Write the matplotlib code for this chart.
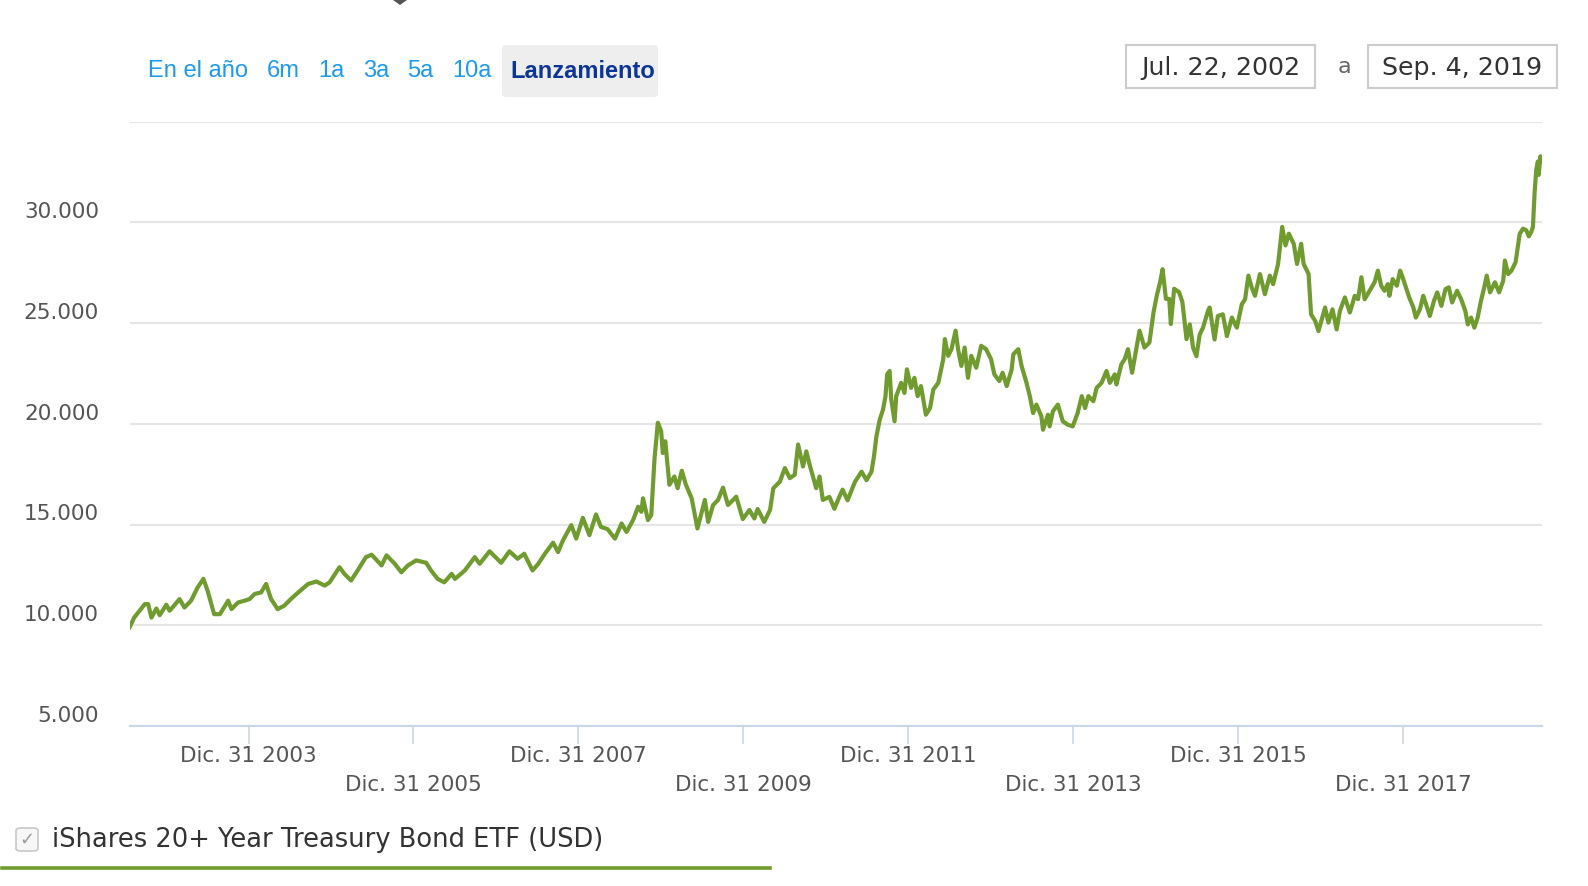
import matplotlib
matplotlib.use("Agg")
import matplotlib.pyplot as plt
from matplotlib.patches import Rectangle, FancyBboxPatch, Polygon
from matplotlib.lines import Line2D
from matplotlib.transforms import ScaledTranslation

# growth of 10.000 USD, decimal year -> value
years = [
    2002.555, 2002.61, 2002.74, 2002.78, 2002.82, 2002.88, 2002.92, 2003.00, 2003.04, 2003.10,
    2003.16, 2003.22, 2003.30, 2003.38, 2003.45, 2003.50, 2003.58, 2003.65, 2003.75, 2003.79,
    2003.87, 2003.95, 2004.01, 2004.07, 2004.15, 2004.21, 2004.27, 2004.35, 2004.43, 2004.51,
    2004.60, 2004.72, 2004.82, 2004.92, 2004.98, 2005.10, 2005.16, 2005.24, 2005.32, 2005.42,
    2005.49, 2005.61, 2005.67, 2005.77, 2005.85, 2005.93, 2006.03, 2006.15, 2006.21, 2006.29,
    2006.37, 2006.46, 2006.50, 2006.62,
    2006.74, 2006.80, 2006.92, 2007.06, 2007.16, 2007.26, 2007.34, 2007.44, 2007.51, 2007.59,
    2007.69, 2007.75, 2007.81, 2007.91, 2007.97, 2008.05, 2008.13, 2008.21, 2008.27, 2008.35,
    2008.44, 2008.52, 2008.58, 2008.66, 2008.72, 2008.76, 2008.78, 2008.84, 2008.88, 2008.92,
    2008.96, 2009.00, 2009.02, 2009.05, 2009.10, 2009.16, 2009.20, 2009.25, 2009.30, 2009.37,
    2009.44, 2009.53, 2009.57, 2009.63, 2009.69, 2009.75, 2009.81, 2009.85, 2009.91, 2009.99,
    2010.07, 2010.13, 2010.17, 2010.25, 2010.32, 2010.36, 2010.44, 2010.50, 2010.56, 2010.62,
    2010.66, 2010.72, 2010.76, 2010.80, 2010.88, 2010.92, 2010.96,
    2011.04, 2011.10, 2011.16, 2011.20, 2011.26, 2011.35, 2011.43, 2011.49, 2011.55, 2011.58,
    2011.61, 2011.65, 2011.69, 2011.72, 2011.74, 2011.77, 2011.79, 2011.83, 2011.85, 2011.91,
    2011.95, 2011.98, 2012.03, 2012.07, 2012.11, 2012.15, 2012.21, 2012.26, 2012.30, 2012.36,
    2012.42, 2012.44, 2012.48, 2012.52, 2012.57, 2012.60, 2012.64, 2012.68, 2012.72, 2012.76,
    2012.82, 2012.88, 2012.94, 2013.00, 2013.04, 2013.10, 2013.14, 2013.19, 2013.25, 2013.27,
    2013.33, 2013.37, 2013.43, 2013.47, 2013.51, 2013.55, 2013.61, 2013.63, 2013.69, 2013.71,
    2013.75, 2013.81, 2013.87, 2013.93, 2013.99, 2014.05, 2014.10, 2014.14, 2014.18, 2014.24,
    2014.28, 2014.34, 2014.40, 2014.44, 2014.50, 2014.52, 2014.58, 2014.62, 2014.66, 2014.71,
    2014.76, 2014.80, 2014.86, 2014.92, 2014.97, 2015.01, 2015.05, 2015.08, 2015.12, 2015.16,
    2015.18, 2015.22, 2015.28, 2015.32, 2015.37,
    2015.41, 2015.45, 2015.49, 2015.53, 2015.57, 2015.63, 2015.65, 2015.71, 2015.75, 2015.81,
    2015.86, 2015.92, 2015.98, 2016.04, 2016.08, 2016.12, 2016.16, 2016.20, 2016.26, 2016.32,
    2016.38, 2016.42, 2016.48, 2016.53, 2016.57, 2016.61, 2016.67, 2016.71, 2016.76, 2016.79,
    2016.85, 2016.88, 2016.93, 2016.97, 2017.01, 2017.05, 2017.09, 2017.14, 2017.19, 2017.23,
    2017.29, 2017.35, 2017.41, 2017.45, 2017.49, 2017.53, 2017.59, 2017.65, 2017.69, 2017.73,
    2017.77, 2017.81, 2017.83, 2017.87, 2017.92, 2017.96, 2017.99, 2018.03, 2018.07, 2018.12,
    2018.15, 2018.20, 2018.24, 2018.28, 2018.32, 2018.37, 2018.41, 2018.46, 2018.51, 2018.55,
    2018.59, 2018.65, 2018.70, 2018.75, 2018.78, 2018.82, 2018.86, 2018.90, 2018.94, 2018.98,
    2019.01, 2019.05, 2019.11, 2019.16, 2019.21, 2019.23, 2019.27, 2019.31, 2019.36, 2019.41,
    2019.45, 2019.49, 2019.52, 2019.55, 2019.57, 2019.59, 2019.61, 2019.63, 2019.64, 2019.66,
    2019.674,
]
values = [
    9900, 10380, 11050, 11050, 10380, 10830, 10500, 11020, 10720, 11000,
    11300, 10880, 11220, 11880, 12300, 11720, 10550, 10550, 11220, 10800,
    11130, 11220, 11300, 11550, 11630, 12050, 11300, 10800, 10970, 11300,
    11630, 12050, 12170, 11970, 12130, 12880, 12550, 12220, 12720, 13380,
    13500, 12970, 13470, 13050, 12630, 12970, 13220, 13100, 12720, 12300,
    12130, 12550, 12300, 12720,
    13380, 13050, 13670, 13100, 13670, 13300, 13550, 12720, 13050, 13550,
    14100, 13630, 14220, 14970, 14300, 15330, 14470, 15500, 14880, 14770,
    14300, 15050, 14630, 15220, 15880, 15630, 16300, 15220, 15470, 18300,
    20050, 19630, 18550, 19130, 16970, 17380, 16800, 17670, 16970, 16300,
    14800, 16220, 15130, 15970, 16220, 16830, 15970, 16130, 16380, 15270,
    15720, 15300, 15770, 15130, 15720, 16800, 17130, 17800, 17300, 17470,
    18970, 17880, 18630, 17970, 16800, 17380, 16220,
    16370, 15780, 16370, 16730, 16200, 17120, 17620, 17200, 17620, 18370,
    19370, 20200, 20700, 21370, 22450, 22620, 21200, 20120, 21370, 22030,
    21530, 22700, 21780, 22280, 21370, 21870, 20450, 20780, 21700, 22030,
    23200, 24200, 23370, 23700, 24620, 23700, 22870, 23780, 22280, 23370,
    22780, 23870, 23700, 23200, 22450, 22120, 22530, 21870, 22700, 23450,
    23700, 22870, 22030, 21370, 20530, 20950, 20370, 19700, 20450, 19870,
    20620, 20950, 20120, 19950, 19870, 20530, 21370, 20780, 21370, 21120,
    21780, 22030, 22620, 22030, 22450, 21950, 22950, 23200, 23700, 22530,
    23700, 24620, 23780, 24030, 25530, 26370, 27030, 27670, 26200, 26200,
    24950, 26700, 26530, 26030, 24200,
    24930, 23770, 23350, 24430, 24770, 25600, 25770, 24180, 25350, 25430,
    24350, 25270, 24770, 25930, 26180, 27350, 26770, 26350, 27430, 26430,
    27350, 26930, 27930, 29770, 28850, 29430, 28930, 27930, 28930, 27930,
    27430, 25430, 25100, 24600, 25180, 25770, 25020, 25680, 24680, 25600,
    26270, 25520, 26350, 26180, 27270, 26180, 26600, 27020, 27600, 26850,
    26600, 26930, 26350, 27180, 26850, 27600, 27270, 26770, 26270, 25770,
    25270, 25680, 26350, 25850, 25350, 26100, 26520, 25850, 26680, 26770,
    26020, 26600, 26180, 25600, 24930, 25270, 24770, 25270, 26100, 26770,
    27350, 26520, 27020, 26520, 27100, 28100, 27430, 27600, 28020, 29430,
    29680, 29600, 29300, 29520, 29770, 31430, 32600, 33020, 32350, 33270,
    33020,
]

y_ticks = [5000, 10000, 15000, 20000, 25000, 30000, 35000]
y_labels = ["5.000", "10.000", "15.000", "20.000", "25.000", "30.000", ""]
x_ticks = [2003.997, 2005.997, 2007.997, 2009.997, 2011.997, 2013.997, 2015.997, 2017.997]
x_labels = ["Dic. 31 2003", "Dic. 31 2005", "Dic. 31 2007", "Dic. 31 2009",
            "Dic. 31 2011", "Dic. 31 2013", "Dic. 31 2015", "Dic. 31 2017"]
ranges = ["En el año", "6m", "1a", "3a", "5a", "10a"]
range_x = [148, 267, 318, 363, 407, 452]
series_name = "iShares 20+ Year Treasury Bond ETF (USD)"

W, H = 1588, 886
green = "#6f9b2f"

fig = plt.figure(figsize=(W / 100, H / 100), dpi=100)
ax = fig.add_axes([129.6 / W, 1 - 726 / H, (1541.5 - 129.6) / W, (726 - 121.5) / H])

ax.plot(years, values, color=green, lw=3.0, solid_joinstyle="round", zorder=3)

ax.set_xlim(2002.555, 2019.674)
ax.set_ylim(5000, 35000)

for s in ["top", "right", "left"]:
    ax.spines[s].set_visible(False)
ax.spines["bottom"].set_color("#ccd6eb")
ax.spines["bottom"].set_linewidth(1.5)
ax.spines["bottom"].set_zorder(4)

ax.set_yticks(y_ticks)
ax.set_yticklabels(y_labels)
ax.yaxis.grid(True, color="#e6e6e6", lw=1.5)
ax.set_axisbelow(True)
ax.tick_params(axis="y", length=0, pad=22, labelsize=15.5, labelcolor="#555555")
for lab in ax.get_yticklabels():
    lab.set_verticalalignment("center")
    lab.set_transform(lab.get_transform() + ScaledTranslation(0, 0.10, fig.dpi_scale_trans))

ax.set_xticks(x_ticks)
ax.set_xticklabels(x_labels)
ax.tick_params(axis="x", length=13, width=1.2, color="#ccd6eb", pad=1.5,
               labelsize=15.5, labelcolor="#555555")
for i, lab in enumerate(ax.get_xticklabels()):
    if i % 2 == 1:
        lab.set_transform(lab.get_transform() + ScaledTranslation(0, -0.285, fig.dpi_scale_trans))

# range selector buttons
fig.patches.append(FancyBboxPatch((502 / W, 1 - 97 / H), 156 / W, 52 / H,
                                  boxstyle="round,pad=0,rounding_size=0.003",
                                  transform=fig.transFigure, fc="#eeeeee", ec="none"))
for name, x in zip(ranges, range_x):
    fig.text(x / W, 1 - 71 / H, name, color="#1a9af0", fontsize=17,
             family="Liberation Sans", va="center", ha="left")
fig.text(510 / W, 1 - 71 / H, "Lanzamiento", color="#0b3596", fontsize=17,
         family="Liberation Sans", fontweight="bold", va="center", ha="left")

# date inputs
for x0, x1, txt in [(1126, 1315, "Jul. 22, 2002"), (1368, 1557, "Sep. 4, 2019")]:
    fig.patches.append(Rectangle((x0 / W, 1 - 88 / H), (x1 - x0) / W, 43.5 / H,
                                 transform=fig.transFigure, fc="white", ec="#cccccc", lw=1.5))
    fig.text((x0 + x1) / 2 / W, 1 - 68 / H, txt, color="#333333", fontsize=18.2,
             va="center", ha="center")
fig.text(1344 / W, 1 - 67 / H, "a", color="#666666", fontsize=16, va="center", ha="center")

# little caret at top edge
fig.patches.append(Polygon([(393 / W, 1.0), (407 / W, 1.0), (400 / W, 1 - 5 / H)],
                           closed=True, transform=fig.transFigure, fc="#555555", ec="none"))

# legend
fig.patches.append(FancyBboxPatch((16 / W, 1 - 851 / H), 22 / W, 23 / H,
                                  boxstyle="round,pad=0,rounding_size=0.003",
                                  transform=fig.transFigure, fc="#f7f7f7", ec="#c8c8c8", lw=1.2))
fig.text(27 / W, 1 - 840 / H, "\u2713", color="#9a9a9a", fontsize=13, va="center", ha="center")
fig.text(52 / W, 1 - 840 / H, series_name, color="#333333", fontsize=18.5, va="center", ha="left")
fig.lines.append(Line2D([2 / W, 770 / W], [1 - 868 / H, 1 - 868 / H], color=green, lw=2.6,
                        transform=fig.transFigure))

fig.savefig("out.png", dpi=100, facecolor="white")
